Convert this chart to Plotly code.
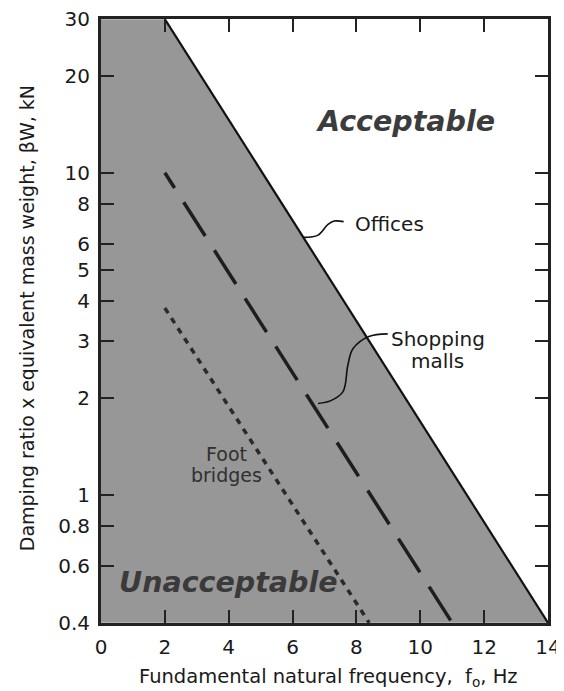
import math
import plotly.graph_objects as go

# Criterion lines (frequency Hz, beta*W kN)
offices_x = [2, 14]
offices_y = [30, 0.4]
malls_x = [2, 11]
malls_y = [10, 0.4]
bridges_x = [2, 8.4]
bridges_y = [3.8, 0.4]

x_ticks = [0, 2, 4, 6, 8, 10, 12, 14]
y_ticks = [0.4, 0.6, 0.8, 1, 2, 3, 4, 5, 6, 8, 10, 20, 30]
y_ticklabels = ["0.4", "0.6", "0.8", "1", "2", "3", "4", "5", "6", "8", "10", "20", "30"]

x_range = [0, 14]
y_range = [0.4, 30]

# Leader curves for labels
offices_leader_x = [6.35, 6.8, 7.1, 7.3, 7.6]
offices_leader_y = [6.3, 6.4, 6.9, 7.08, 7.05]
malls_leader_x = [8.98, 8.39, 7.89, 7.73, 7.58, 7.2, 6.8]
malls_leader_y = [3.16, 3.10, 2.84, 2.52, 2.09, 1.96, 1.92]

FONT = "DejaVu Sans, sans-serif"
TXT = "#1a1a1a"


def ly(v):
    return math.log10(v)


fig = go.Figure()

# Unacceptable region (under the offices line)
fill_x = [x_range[0]] + offices_x + [x_range[0]]
fill_y = [y_range[1]] + offices_y + [y_range[0]]
fig.add_trace(go.Scatter(x=fill_x, y=fill_y, fill="toself", mode="lines",
                         line=dict(width=0), fillcolor="#979797",
                         hoverinfo="skip", showlegend=False))

fig.add_trace(go.Scatter(x=offices_x, y=offices_y, mode="lines",
                         line=dict(color="#111111", width=2.2), showlegend=False))
fig.add_trace(go.Scatter(x=malls_x, y=malls_y, mode="lines",
                         line=dict(color="#1e1e1e", width=3.5, dash="18px,17px,40px,17px,40px,17px,40px,17px,40px,17px,40px,17px,40px,17px,40px,17px,40px,17px,40px,17px"),
                         showlegend=False))
fig.add_trace(go.Scatter(x=bridges_x, y=bridges_y, mode="lines",
                         line=dict(color="#2a2a2a", width=3.5, dash="6px,6px"),
                         showlegend=False))

fig.add_trace(go.Scatter(x=offices_leader_x, y=offices_leader_y, mode="lines",
                         line=dict(color="#111111", width=1.6, shape="spline"),
                         showlegend=False, hoverinfo="skip"))
fig.add_trace(go.Scatter(x=malls_leader_x, y=malls_leader_y, mode="lines",
                         line=dict(color="#111111", width=1.6, shape="spline"),
                         showlegend=False, hoverinfo="skip"))

annotations = [
    dict(x=9.55, y=ly(14.4), text="<b><i>Acceptable</i></b>", showarrow=False,
         font=dict(family=FONT, size=28.5, color="#3c3c3c")),
    dict(x=3.99, y=ly(0.535), text="<b><i>Unacceptable</i></b>", showarrow=False,
         font=dict(family=FONT, size=28.5, color="#3a3a3a")),
    dict(x=7.9, y=ly(6.95), text="Offices", showarrow=False, xanchor="left",
         font=dict(family=FONT, size=20, color=TXT)),
    dict(x=10.55, y=ly(3.05), text="Shopping", showarrow=False,
         font=dict(family=FONT, size=20, color=TXT)),
    dict(x=10.55, y=ly(2.6), text="malls", showarrow=False,
         font=dict(family=FONT, size=20, color=TXT)),
    dict(x=3.93, y=ly(1.34), text="Foot", showarrow=False,
         font=dict(family=FONT, size=19, color="#303030")),
    dict(x=3.93, y=ly(1.15), text="bridges", showarrow=False,
         font=dict(family=FONT, size=19, color="#303030")),
    # axis titles
    dict(x=0.51, y=-0.091, xref="paper", yref="paper", showarrow=False,
         xanchor="center", yanchor="middle",
         text="Fundamental natural frequency,  f<sub>o</sub>, Hz",
         font=dict(family=FONT, size=19.5, color=TXT)),
    dict(x=-0.165, y=0.505, xref="paper", yref="paper", showarrow=False,
         xanchor="center", yanchor="middle",
         textangle=-90, text="Damping ratio x equivalent mass weight, βW, kN",
         font=dict(family=FONT, size=19, color=TXT)),
]

fig.update_layout(
    width=556, height=683,
    margin=dict(l=93, r=16, t=11, b=68, autoexpand=False),
    paper_bgcolor="white", plot_bgcolor="white",
    showlegend=False,
    annotations=annotations,
    font=dict(family=FONT, color=TXT),
)
fig.update_xaxes(
    range=x_range, tickvals=x_ticks, ticks="inside", ticklen=13, tickwidth=1.8,
    tickcolor="#222", showline=True, linewidth=3, linecolor="#222", mirror="allticks",
    showgrid=False, zeroline=False, automargin=False, ticklabelstandoff=4,
    ticklabeloverflow="allow",
    tickfont=dict(size=20, family=FONT, color=TXT),
)
fig.update_yaxes(
    type="log", range=[ly(y_range[0]) - 0.0005, ly(y_range[1]) + 0.0005], tickvals=y_ticks,
    ticktext=y_ticklabels, ticks="inside", ticklen=13, tickwidth=1.8, tickcolor="#222",
    showline=True, linewidth=3, linecolor="#222", mirror="allticks",
    showgrid=False, zeroline=False, automargin=False, ticklabelstandoff=4,
    ticklabeloverflow="allow",
    tickfont=dict(size=20, family=FONT, color=TXT),
)

fig.write_html("out.html")
